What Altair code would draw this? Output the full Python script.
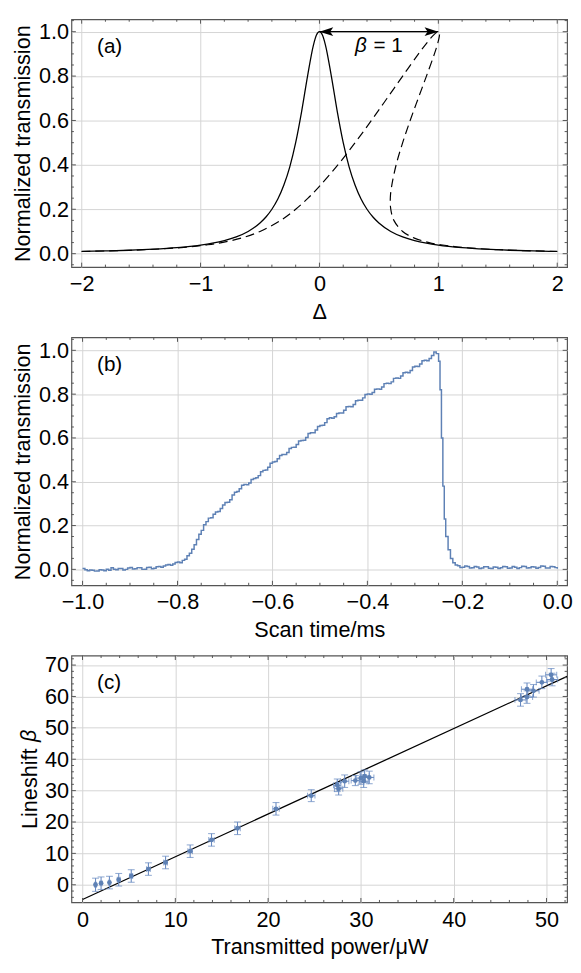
import altair as alt
import numpy as np
import pandas as pd

FONT = "Liberation Sans"
BLUE = "#5E81B5"
FRAME = "#555555"
GRID = "#d4d4d4"
FS = 22

W = 504
H_A, H_B, H_C = 252, 252, 251
SPACING = 71.5
XTITLE_Y = 52
MAJ, MIN = 4.5, 2.5

# ---------------- panel (a): Lorentzian (solid) and bistable line shape (dashed)
lor_delta = [-2.0, -1.8, -1.6, -1.4, -1.2, -1.0, -0.9, -0.8, -0.7, -0.6, -0.5, -0.45, -0.4, -0.35,
             -0.3, -0.25, -0.2, -0.15, -0.1, -0.05, -0.025, 0.0, 0.025, 0.05, 0.1, 0.15, 0.2, 0.25,
             0.3, 0.35, 0.4, 0.45, 0.5, 0.6, 0.7, 0.8, 0.9, 1.0, 1.2, 1.4, 1.6, 1.8, 2.0]
lor_T = [0.0099, 0.0122, 0.0154, 0.0200, 0.0270, 0.0385, 0.0471, 0.0588, 0.0755, 0.100, 0.138, 0.165,
         0.200, 0.246, 0.308, 0.390, 0.500, 0.640, 0.800, 0.941, 0.985, 1.0, 0.985, 0.941, 0.800,
         0.640, 0.500, 0.390, 0.308, 0.246, 0.200, 0.165, 0.138, 0.100, 0.0755, 0.0588, 0.0471,
         0.0385, 0.0270, 0.0200, 0.0154, 0.0122, 0.0099]

bis_delta = [-2.0, -1.6, -1.38, -1.107, -0.94, -0.822, -0.659, -0.5, -0.326, -0.2,
             -0.096, -0.006, 0.155, 0.30, 0.437, 0.569, 0.70, 0.833, 0.904, 0.951,
             0.970, 0.981, 1.0, 1.009, 1.010, 1.0086, 0.996, 0.967, 0.90, 0.831,
             0.763, 0.70, 0.645, 0.606, 0.596, 0.60, 0.626, 0.70, 0.799, 0.922,
             1.02, 1.167, 1.42, 1.64, 2.0]
bis_T = [0.0099, 0.015, 0.02, 0.03, 0.04, 0.05, 0.07, 0.10, 0.15, 0.20,
         0.25, 0.30, 0.40, 0.50, 0.60, 0.70, 0.80, 0.90, 0.95, 0.98,
         0.99, 0.995, 1.0, 0.995, 0.99, 0.98, 0.95, 0.90, 0.80, 0.70,
         0.60, 0.50, 0.40, 0.30, 0.25, 0.20, 0.15, 0.10, 0.07, 0.05,
         0.04, 0.03, 0.02, 0.015, 0.0099]

arrow_x = [0.0, 1.0]
arrow_y = [1.0, 1.0]
beta_label_x, beta_label_y = 0.30, 0.91
eq_label_x = 0.455

a_x_major = [-2, -1, 0, 1, 2]
a_y_major = [0.0, 0.2, 0.4, 0.6, 0.8, 1.0]

# ---------------- panel (b): measured transmission during the scan (time/ms, normalized)
scan_samples = [
    (-1.000, 0.004), (-0.995, -0.002), (-0.990, -0.006), (-0.985, -0.003), (-0.980, -0.004),
    (-0.975, -0.008), (-0.970, -0.007), (-0.965, -0.002), (-0.960, -0.003), (-0.955, -0.006),
    (-0.950, 0.001), (-0.945, -0.004), (-0.940, 0.007), (-0.935, 0.001), (-0.930, -0.002),
    (-0.925, 0.004), (-0.920, 0.004), (-0.915, -0.003), (-0.910, 0.000), (-0.905, 0.006),
    (-0.900, 0.009), (-0.895, 0.002), (-0.890, 0.003), (-0.885, 0.008), (-0.880, 0.007),
    (-0.875, 0.000), (-0.870, 0.001), (-0.865, 0.009), (-0.860, 0.010), (-0.855, 0.003),
    (-0.850, 0.005), (-0.845, 0.012), (-0.840, 0.013), (-0.835, 0.010), (-0.830, 0.015),
    (-0.825, 0.020), (-0.820, 0.022), (-0.815, 0.019), (-0.810, 0.025), (-0.805, 0.031),
    (-0.800, 0.034), (-0.795, 0.030), (-0.790, 0.041), (-0.785, 0.046), (-0.780, 0.062),
    (-0.775, 0.074), (-0.770, 0.092), (-0.765, 0.112), (-0.760, 0.136), (-0.755, 0.160),
    (-0.750, 0.178), (-0.745, 0.204), (-0.740, 0.218), (-0.735, 0.234), (-0.730, 0.236),
    (-0.725, 0.252), (-0.720, 0.262), (-0.715, 0.264), (-0.710, 0.278), (-0.705, 0.294),
    (-0.700, 0.305), (-0.695, 0.306), (-0.690, 0.318), (-0.685, 0.340), (-0.680, 0.352),
    (-0.675, 0.356), (-0.670, 0.368), (-0.665, 0.384), (-0.660, 0.388), (-0.655, 0.386),
    (-0.650, 0.394), (-0.645, 0.410), (-0.640, 0.415), (-0.635, 0.418), (-0.630, 0.428),
    (-0.625, 0.446), (-0.620, 0.452), (-0.615, 0.454), (-0.610, 0.466), (-0.605, 0.484),
    (-0.600, 0.490), (-0.595, 0.492), (-0.590, 0.505), (-0.585, 0.520), (-0.580, 0.524),
    (-0.575, 0.524), (-0.570, 0.534), (-0.565, 0.552), (-0.560, 0.557), (-0.555, 0.558),
    (-0.550, 0.570), (-0.545, 0.586), (-0.540, 0.588), (-0.535, 0.590), (-0.530, 0.602),
    (-0.525, 0.620), (-0.520, 0.624), (-0.515, 0.624), (-0.510, 0.636), (-0.505, 0.652),
    (-0.500, 0.657), (-0.495, 0.658), (-0.490, 0.670), (-0.485, 0.688), (-0.480, 0.692),
    (-0.475, 0.690), (-0.470, 0.697), (-0.465, 0.712), (-0.460, 0.714), (-0.455, 0.714),
    (-0.450, 0.726), (-0.445, 0.742), (-0.440, 0.744), (-0.435, 0.742), (-0.430, 0.753),
    (-0.425, 0.770), (-0.420, 0.772), (-0.415, 0.772), (-0.410, 0.783), (-0.405, 0.798),
    (-0.400, 0.801), (-0.395, 0.800), (-0.390, 0.808), (-0.385, 0.822), (-0.380, 0.824),
    (-0.375, 0.822), (-0.370, 0.833), (-0.365, 0.848), (-0.360, 0.850), (-0.355, 0.848),
    (-0.350, 0.856), (-0.345, 0.872), (-0.340, 0.874), (-0.335, 0.872), (-0.330, 0.883),
    (-0.325, 0.898), (-0.320, 0.900), (-0.315, 0.898), (-0.310, 0.908), (-0.305, 0.924),
    (-0.300, 0.927), (-0.295, 0.926), (-0.290, 0.938), (-0.285, 0.952), (-0.280, 0.955),
    (-0.275, 0.952), (-0.270, 0.963), (-0.265, 0.976), (-0.260, 0.992), (-0.255, 0.985),
    (-0.250, 0.950), (-0.247, 0.820), (-0.244, 0.600), (-0.241, 0.380), (-0.238, 0.230),
    (-0.235, 0.150), (-0.230, 0.090), (-0.225, 0.050), (-0.220, 0.030), (-0.215, 0.020),
    (-0.210, 0.016), (-0.205, 0.009), (-0.200, 0.010), (-0.195, 0.015), (-0.190, 0.013),
    (-0.185, 0.006), (-0.180, 0.007), (-0.175, 0.013), (-0.170, 0.011), (-0.165, 0.004),
    (-0.160, 0.006), (-0.155, 0.012), (-0.150, 0.012), (-0.145, 0.005), (-0.140, 0.004),
    (-0.135, 0.011), (-0.130, 0.010), (-0.125, 0.004), (-0.120, 0.007), (-0.115, 0.013),
    (-0.110, 0.012), (-0.105, 0.005), (-0.100, 0.006), (-0.095, 0.013), (-0.090, 0.010),
    (-0.085, 0.004), (-0.080, 0.008), (-0.075, 0.014), (-0.070, 0.013), (-0.065, 0.006),
    (-0.060, 0.007), (-0.055, 0.012), (-0.050, 0.011), (-0.045, 0.005), (-0.040, 0.009),
    (-0.035, 0.015), (-0.030, 0.014), (-0.025, 0.006), (-0.020, 0.006), (-0.015, 0.013),
    (-0.010, 0.012), (-0.005, 0.008), (0.000, 0.003),
]
scan_t = [p[0] for p in scan_samples]
scan_T = [p[1] for p in scan_samples]

b_x_major = [-1.0, -0.8, -0.6, -0.4, -0.2, 0.0]
b_y_major = [0.0, 0.2, 0.4, 0.6, 0.8, 1.0]

# ---------------- panel (c): lineshift vs transmitted power
power = [1.4, 2.0, 2.9, 3.9, 5.25, 7.1, 8.95, 11.6, 13.9, 16.7, 20.85, 24.65, 27.45, 27.6,
         28.25, 29.4, 30.0, 30.3, 30.4, 30.9, 47.2, 47.9, 47.9, 48.6, 49.5, 50.5, 50.6]
shift = [0.0, 0.5, 0.7, 1.6, 2.8, 5.0, 7.1, 10.7, 14.3, 18.0, 24.2, 28.4, 31.7, 30.6,
         33.0, 33.2, 34.0, 33.0, 34.6, 34.2, 58.9, 62.3, 59.8, 61.8, 64.5, 66.9, 65.4]
shift_err = [2.1, 2.0, 2.0, 2.0, 2.0, 2.0, 2.0, 2.0, 2.0, 2.0, 2.0, 1.9, 2.0, 2.0,
             2.0, 1.6, 2.0, 2.0, 2.0, 2.0, 2.0, 2.0, 2.0, 2.0, 2.0, 2.0, 2.0]
power_err = [0.1, 0.1, 0.1, 0.15, 0.15, 0.2, 0.2, 0.25, 0.3, 0.3, 0.35, 0.4, 0.4, 0.45,
             0.45, 0.45, 0.5, 0.5, 0.5, 0.5, 0.6, 0.6, 0.6, 0.6, 0.6, 0.6, 0.6]
fit_P = [0.0, 52.22]
fit_beta = [-4.7, 66.4]

c_x_major = [0, 10, 20, 30, 40, 50]
c_y_major = [0, 10, 20, 30, 40, 50, 60, 70]


def minor(lo, hi, step, majors):
    vals = [round(v, 4) for v in np.arange(lo, hi + step / 2, step)]
    return [v for v in vals if all(abs(v - m) > 1e-6 for m in majors)]


def xaxis(vals, fmt, title):
    return alt.Axis(values=vals, format=fmt, title=title, grid=True, ticks=False, tickSize=0,
                    domain=False, labelPadding=7, labelFlush=False, titleX=W / 2, titleY=XTITLE_Y,
                    titleBaseline="alphabetic", titleAlign="center")


def yaxis(vals, fmt, title, H, tx, ty=None, talign="center"):
    return alt.Axis(values=vals, format=fmt, title=title, grid=True, ticks=False, tickSize=0,
                    domain=False, labelPadding=3, labelFlush=False, titleX=tx,
                    titleY=H / 2 if ty is None else ty, titleAngle=270,
                    titleBaseline="alphabetic", titleAlign=talign)


def frame_ticks(xs, ys, ax, ay, xmaj, xmin, ymaj, ymin, H):
    out = []
    for vals, L in ((xmaj, MAJ), (xmin, MIN)):
        base = alt.Chart(pd.DataFrame({"x": vals})).mark_rule(color=FRAME, strokeWidth=1)
        X = alt.X("x:Q", scale=xs, axis=ax)
        out.append(base.encode(x=X, y=alt.value(H), y2=alt.value(H - L)))
        out.append(base.encode(x=X, y=alt.value(0), y2=alt.value(L)))
    for vals, L in ((ymaj, MAJ), (ymin, MIN)):
        base = alt.Chart(pd.DataFrame({"y": vals})).mark_rule(color=FRAME, strokeWidth=1)
        Y = alt.Y("y:Q", scale=ys, axis=ay)
        out.append(base.encode(y=Y, x=alt.value(0), x2=alt.value(L)))
        out.append(base.encode(y=Y, x=alt.value(W), x2=alt.value(W - L)))
    return out


def panel_label(txt):
    return alt.Chart(pd.DataFrame({"t": [txt]})).mark_text(
        align="left", baseline="middle", fontSize=21, font=FONT, color="black"
    ).encode(x=alt.value(26), y=alt.value(28), text="t:N")


# ---------- (a)
xs_a = alt.Scale(domain=[-2.086, 2.083], nice=False, zero=False)
ys_a = alt.Scale(domain=[-0.0605, 1.056], nice=False, zero=False)
ax_a = xaxis(a_x_major, "d", "Δ")
ay_a = yaxis(a_y_major, ".1f", "Normalized transmission", H_A, -42.7)
XA = alt.X("x:Q", scale=xs_a, axis=ax_a)
YA = alt.Y("y:Q", scale=ys_a, axis=ay_a)

solid = alt.Chart(pd.DataFrame({"x": lor_delta, "y": lor_T})).mark_line(
    color="black", strokeWidth=1.3, interpolate="monotone", clip=True).encode(x=XA, y=YA)
dashed = alt.Chart(pd.DataFrame({"x": bis_delta, "y": bis_T, "i": list(range(len(bis_T)))})).mark_line(
    color="black", strokeWidth=1.2, strokeDash=[9, 5], interpolate="catmull-rom", clip=True
).encode(x=XA, y=YA, order=alt.Order("i:Q"))
arrow = alt.Chart(pd.DataFrame({"x": [arrow_x[0]], "x2": [arrow_x[1]], "y": [arrow_y[0]]})).mark_rule(
    color="black", strokeWidth=1.3).encode(x=XA, x2="x2:Q", y=YA)
head_l = alt.Chart(pd.DataFrame({"x": [arrow_x[0]], "y": [arrow_y[0]]})).mark_point(
    shape="M0,0 L1,-0.32 L0.78,0 L1,0.32 Z", size=784, filled=True, color="black", opacity=1,
    strokeWidth=0).encode(x=XA, y=YA)
head_r = alt.Chart(pd.DataFrame({"x": [arrow_x[1]], "y": [arrow_y[1]]})).mark_point(
    shape="M0,0 L-1,-0.32 L-0.78,0 L-1,0.32 Z", size=784, filled=True, color="black", opacity=1,
    strokeWidth=0).encode(x=XA, y=YA)
beta_txt = alt.Chart(pd.DataFrame({"x": [beta_label_x], "y": [beta_label_y], "t": ["β"]})).mark_text(
    align="left", baseline="alphabetic", fontSize=21, font=FONT, fontStyle="italic", color="black"
).encode(x=XA, y=YA, text="t:N")
eq_txt = alt.Chart(pd.DataFrame({"x": [eq_label_x], "y": [beta_label_y], "t": ["= 1"]})).mark_text(
    align="left", baseline="alphabetic", fontSize=21, font=FONT, color="black"
).encode(x=XA, y=YA, text="t:N")

ticks_a = frame_ticks(xs_a, ys_a, ax_a, ay_a, a_x_major, minor(-2, 2, 0.2, a_x_major),
                      a_y_major, minor(-0.05, 1.05, 0.05, a_y_major), H_A)
chart_a = alt.layer(solid, dashed, arrow, head_l, head_r, beta_txt, eq_txt, *ticks_a,
                    panel_label("(a)")).properties(width=W, height=H_A)

# ---------- (b)
xs_b = alt.Scale(domain=[-1.0234, 0.0207], nice=False, zero=False)
ys_b = alt.Scale(domain=[-0.0725, 1.059], nice=False, zero=False)
ax_b = xaxis(b_x_major, ".1f", "Scan time/ms")
ay_b = yaxis(b_y_major, ".1f", "Normalized transmission", H_B, -42.7)
XB = alt.X("x:Q", scale=xs_b, axis=ax_b)
YB = alt.Y("y:Q", scale=ys_b, axis=ay_b)
trace = alt.Chart(pd.DataFrame({"x": scan_t, "y": scan_T})).mark_line(
    color=BLUE, strokeWidth=1.5, clip=True, interpolate="step-after").encode(x=XB, y=YB)
ticks_b = frame_ticks(xs_b, ys_b, ax_b, ay_b, b_x_major, minor(-1.0, 0.0, 0.05, b_x_major),
                      b_y_major, minor(-0.05, 1.05, 0.05, b_y_major), H_B)
chart_b = alt.layer(trace, *ticks_b, panel_label("(b)")).properties(width=W, height=H_B)

# ---------- (c)
xs_c = alt.Scale(domain=[-1.195, 52.22], nice=False, zero=False)
ys_c = alt.Scale(domain=[-5.62, 73.03], nice=False, zero=False)
ax_c = xaxis(c_x_major, "d", "Transmitted power/μW")
ay_c = yaxis(c_y_major, "d", "Lineshift", H_C, -36, ty=H_C / 2 + 50.35, talign="left")
XC = alt.X("x:Q", scale=xs_c, axis=ax_c)
YC = alt.Y("y:Q", scale=ys_c, axis=ay_c)

df_c = pd.DataFrame({"x": power, "y": shift})
df_c["ylo"] = [s - e for s, e in zip(shift, shift_err)]
df_c["yhi"] = [s + e for s, e in zip(shift, shift_err)]
df_c["xlo"] = [p - e for p, e in zip(power, power_err)]
df_c["xhi"] = [p + e for p, e in zip(power, power_err)]
EB = "#6a8bc2"
vbar = alt.Chart(df_c).mark_rule(color=EB, strokeWidth=1.1).encode(
    x=XC, y=alt.Y("ylo:Q", scale=ys_c, axis=ay_c), y2="yhi:Q")
hbar = alt.Chart(df_c).mark_rule(color=EB, strokeWidth=1.1).encode(
    y=YC, x=alt.X("xlo:Q", scale=xs_c, axis=ax_c), x2="xhi:Q")
cap_t = alt.Chart(df_c).mark_tick(color=EB, orient="horizontal", size=7, thickness=1.1).encode(
    x=XC, y=alt.Y("yhi:Q", scale=ys_c, axis=ay_c))
cap_b = alt.Chart(df_c).mark_tick(color=EB, orient="horizontal", size=7, thickness=1.1).encode(
    x=XC, y=alt.Y("ylo:Q", scale=ys_c, axis=ay_c))
cap_l = alt.Chart(df_c).mark_tick(color=EB, orient="vertical", size=6, thickness=1.1).encode(
    y=YC, x=alt.X("xlo:Q", scale=xs_c, axis=ax_c))
cap_r = alt.Chart(df_c).mark_tick(color=EB, orient="vertical", size=6, thickness=1.1).encode(
    y=YC, x=alt.X("xhi:Q", scale=xs_c, axis=ax_c))
pts = alt.Chart(df_c).mark_circle(color=BLUE, size=24, opacity=1).encode(x=XC, y=YC)
fit = alt.Chart(pd.DataFrame({"x": fit_P, "y": fit_beta})).mark_line(
    color="black", strokeWidth=1.3, clip=True).encode(x=XC, y=YC)
beta_title = alt.Chart(pd.DataFrame({"t": ["β"]})).mark_text(
    align="left", baseline="alphabetic", angle=270, fontSize=FS, font=FONT, fontStyle="italic",
    color="black").encode(x=alt.value(-36), y=alt.value(H_C / 2 + 50.35 - 88.0), text="t:N")
ticks_c = frame_ticks(xs_c, ys_c, ax_c, ay_c, c_x_major, minor(0, 52, 2, c_x_major),
                      c_y_major, minor(-4, 72, 2, c_y_major), H_C)
chart_c = alt.layer(fit, vbar, hbar, cap_t, cap_b, cap_l, cap_r, pts, *ticks_c, beta_title,
                    panel_label("(c)")).properties(width=W, height=H_C)

chart = alt.vconcat(chart_a, chart_b, chart_c, spacing=SPACING, bounds="flush").properties(
    padding={"left": 2.5, "top": 1.4, "right": 0, "bottom": 0}
).configure(font=FONT).configure_axis(
    labelFont=FONT, titleFont=FONT, labelFontSize=FS, titleFontSize=FS, labelColor="black",
    titleColor="black", titleFontWeight="normal", gridColor=GRID, gridWidth=1, gridOpacity=1
).configure_view(stroke=FRAME, strokeWidth=1.2)

chart.save("out.html", embed_options={"renderer": "svg", "actions": False})
